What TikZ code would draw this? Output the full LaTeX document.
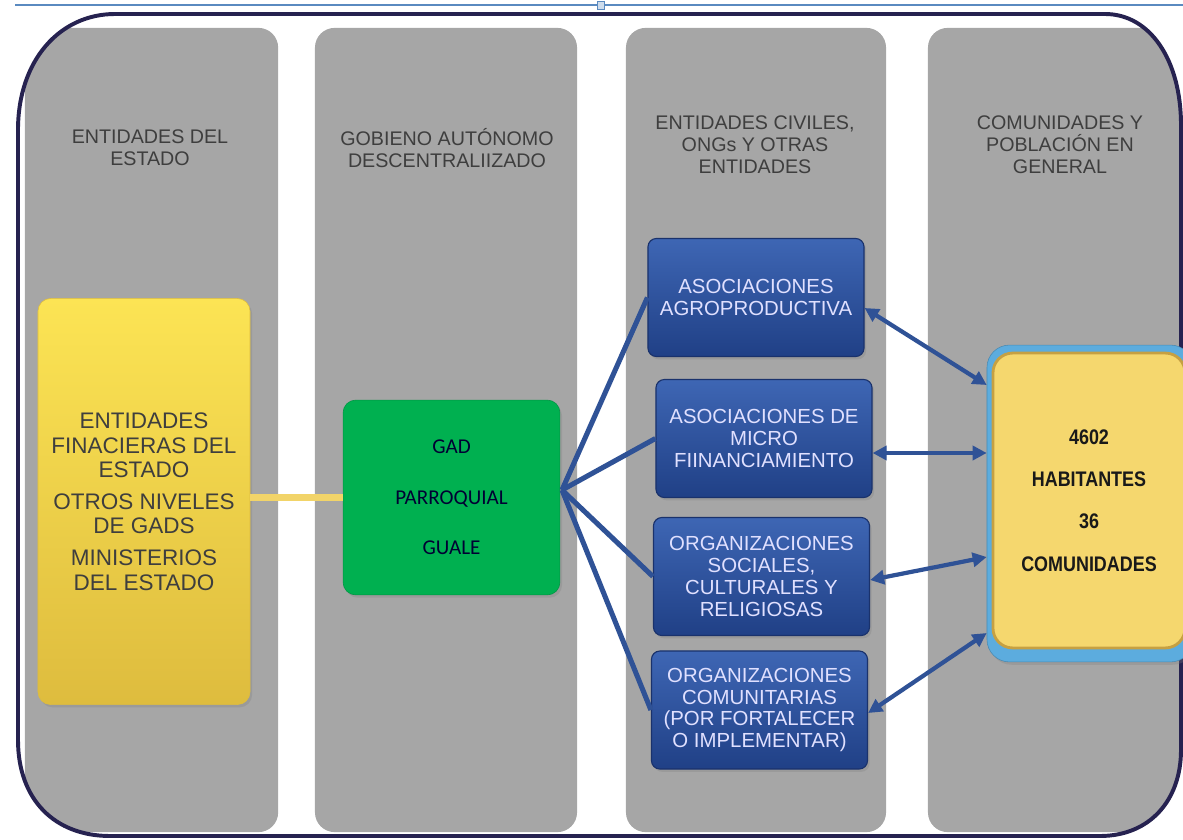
\documentclass[tikz,border=0pt]{standalone}
\usepackage{fontspec}
\setmainfont{Liberation Sans}
\newfontfamily\calibri{Carlito}
\newfontfamily\narrow[FakeStretch=0.85]{Liberation Sans}
\usetikzlibrary{positioning,arrows.meta,shadows}
\definecolor{colgray}{RGB}{166,166,166}
\definecolor{framenavy}{RGB}{38,34,80}
\definecolor{topline}{RGB}{90,138,192}
\definecolor{orgtop}{RGB}{62,102,180}
\definecolor{orgbot}{RGB}{32,64,134}
\definecolor{orgedge}{RGB}{26,50,108}
\definecolor{linkblue}{RGB}{47,82,150}
\definecolor{gadgreen}{RGB}{0,176,80}
\definecolor{enttop}{RGB}{252,228,84}
\definecolor{entbot}{RGB}{222,188,62}
\definecolor{entlink}{RGB}{242,212,105}
\definecolor{pobyellow}{RGB}{245,215,110}
\definecolor{pobedge}{RGB}{198,160,66}
\definecolor{pobblue}{RGB}{92,172,222}
\definecolor{hdrtext}{RGB}{62,62,62}

\begin{document}
\begin{tikzpicture}[x=0.025cm, y=-0.025cm,
  col/.style={rectangle, rounded corners=14pt, fill=colgray,
              minimum width=#1, minimum height=20.1cm},
  hdr/.style={font=\fontsize{14}{15.5}\selectfont, text=hdrtext, align=center},
  soft/.style={drop shadow={shadow xshift=1.5pt, shadow yshift=-2pt, opacity=0.3}},
  ent/.style={rectangle, rounded corners=9pt, top color=enttop, bottom color=entbot,
              draw=entbot, soft, minimum width=5.3cm, minimum height=10.15cm,
              font=\fontsize{16}{17.5}\selectfont, text=hdrtext, align=center},
  gad/.style={rectangle, rounded corners=9pt, fill=gadgreen, draw=gadgreen!85!black, soft,
              minimum width=5.42cm, minimum height=4.87cm,
              font=\calibri\fontsize{15}{36}\selectfont, text=black!80!blue, align=center},
  org/.style={rectangle, rounded corners=6pt, top color=orgtop, bottom color=orgbot,
              draw=orgedge, thick, soft, minimum width=5.4cm, minimum height=2.95cm,
              font=\fontsize{14.5}{15.5}\selectfont, text=white!88!blue, align=center},
  pob/.style={rectangle, rounded corners=16pt, fill=pobblue, draw=pobblue!80!black, soft,
              minimum width=5.15cm, minimum height=7.92cm},
  pobin/.style={rectangle, rounded corners=14pt, fill=pobyellow, draw=pobedge, line width=2pt,
                minimum width=4.8cm, minimum height=7.37cm,
                font=\narrow\bfseries\fontsize{15}{30}\selectfont, text=black!90, align=center},
  fan/.style={line width=3.6pt, linkblue},
  arr/.style={<->, >={Triangle[length=10pt,width=10pt]}, line width=3pt, linkblue},
]
\useasboundingbox (0,0) rectangle (1183,840);

% thin rule at the top
\draw[topline, line width=0.8pt] (15,5) -- (1183,5);
\draw[topline, fill=topline!30, line width=0.6pt] (597,1) rectangle (604,9);

% gray columns, cut by the frame
\begin{scope}
  \clip (18,740) -- (18,130) .. controls (18,60) and (60,14) .. (115,14) -- (1105,14)
        .. controls (1150,14) and (1181,60) .. (1181,125) -- (1181,750)
        .. controls (1181,800) and (1150,836) .. (1100,836) -- (110,836)
        .. controls (55,836) and (18,800) .. (18,740) -- cycle;
  \node[col=6.33cm] (c1) at (151.5,430) {};
  \node[col=6.55cm] (c2) at (446,430) {};
  \node[col=6.5cm]  (c3) at (756,430) {};
  \node[col=6.8cm]  (c4) at (1064,430) {};
\end{scope}

\draw[framenavy, line width=2.8pt]
  (18,740) -- (18,130) .. controls (18,60) and (60,14) .. (115,14) -- (1105,14)
  .. controls (1150,14) and (1181,60) .. (1181,125) -- (1181,750)
  .. controls (1181,800) and (1150,836) .. (1100,836) -- (110,836)
  .. controls (55,836) and (18,800) .. (18,740) -- cycle;

\node[hdr] (h1) at (150,148)  {ENTIDADES DEL\\ESTADO};
\node[hdr] (h2) at (447,148)  {GOBIENO AUTÓNOMO\\DESCENTRALIIZADO};
\node[hdr] (h3) at (755,145)  {ENTIDADES CIVILES,\\ONGs Y OTRAS\\ENTIDADES};
\node[hdr] (h4) at (1060,145) {COMUNIDADES Y\\POBLACIÓN EN\\GENERAL};

\node[ent] (est) at (144,501.5)
  {ENTIDADES\\FINACIERAS DEL\\ESTADO\\[5pt]
   OTROS NIVELES\\DE GADS\\[5pt]
   MINISTERIOS\\DEL ESTADO};

\node[gad] (gad) at (451.5,497.5) {GAD\\PARROQUIAL\\GUALE};

\node[org] (b1) at (756,297.5)   {ASOCIACIONES\\AGROPRODUCTIVA};
\node[org] (b2) at (764,438.5)   {ASOCIACIONES DE\\MICRO\\FIINANCIAMIENTO};
\node[org] (b3) at (761.5,576.5) {ORGANIZACIONES\\SOCIALES,\\CULTURALES Y\\RELIGIOSAS};
\node[org] (b4) at (759.5,710)   {ORGANIZACIONES\\COMUNITARIAS\\(POR FORTALECER\\O IMPLEMENTAR)};

\node[pob] (pob) at (1090,503.5) {};
\node[pobin] (hab) at (1089,500.5) {4602\\HABITANTES\\36\\COMUNIDADES};

\draw[entlink, line width=5pt] (est.east |- gad.west) -- (gad.west);

\coordinate (fan0) at (562,490);
\draw[fan] (fan0) -- (b1.west);
\draw[fan] (fan0) -- (b2.west);
\draw[fan] (fan0) -- (b3.west);
\draw[fan] (fan0) -- (b4.west);

\draw[arr] (b1.east |- 0,308) -- (pob.west |- 0,385);
\draw[arr] (b2.east |- 0,453) -- (pob.west |- 0,453);
\draw[arr] (b3.east |- 0,580) -- (pob.west |- 0,557);
\draw[arr] (b4.east |- 0,713) -- (pob.west |- 0,633);
\end{tikzpicture}
\end{document}
